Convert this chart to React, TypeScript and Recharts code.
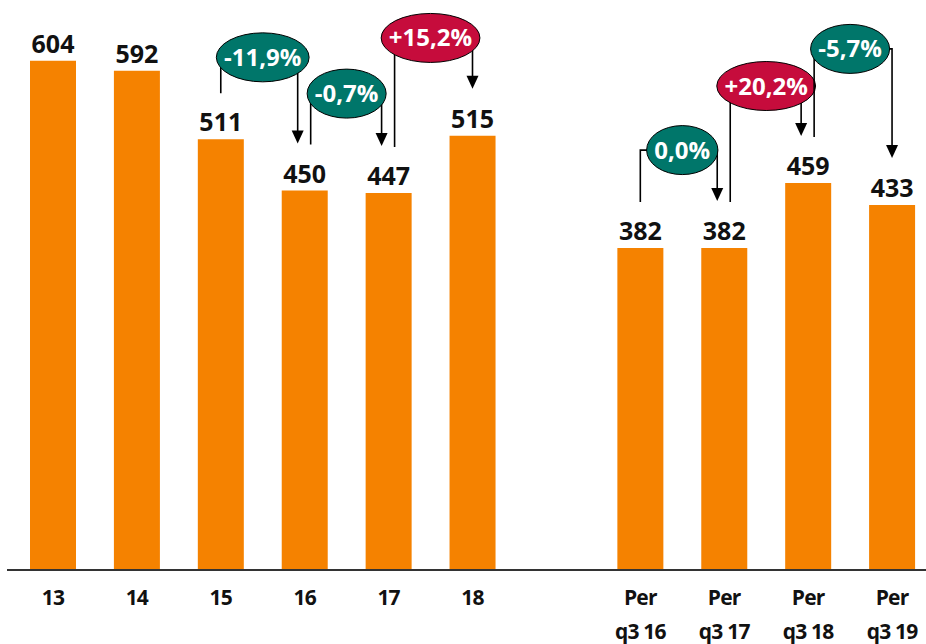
import { BarChart, Bar, XAxis, YAxis, LabelList, ReferenceArea } from 'recharts'

const CATEGORIES = ['13', '14', '15', '16', '17', '18', ' ', 'Per\nq3 16', 'Per\nq3 17', 'Per\nq3 18', 'Per\nq3 19']
const VALUES = [604, 592, 511, 450, 447, 515, null, 382, 382, 459, 433]

// year-on-year changes: index of the bar compared from / to, and the text in the bubble
const CHANGE_FROM = [2, 3, 4, 7, 8, 9]
const CHANGE_TO = [3, 4, 5, 8, 9, 10]
const CHANGE_LABELS = ['-11,9%', '-0,7%', '+15,2%', '0,0%', '+20,2%', '-5,7%']
// height (in axis units) where each bubble sits
const BUBBLE_LEVEL = [608, 565, 631, 498, 574, 618]

const ORANGE = '#F58200'
const TEAL = '#00766A'
const RED = '#C60C3C'
const FONT = "'Open Sans', sans-serif"

const data = CATEGORIES.map((name, i) => ({ name, value: VALUES[i] }))

// rough Open Sans Bold advance widths, for sizing the bubbles
const CHAR_W: Record<string, number> = { '-': 0.322, '+': 0.572, ',': 0.293, '%': 0.868 }
const textWidth = (s: string, size: number) =>
  s.split('').reduce((w, c) => w + (CHAR_W[c] ?? 0.572), 0) * size

function ValueLabel(props: any) {
  const { x, y, width, value } = props
  if (value == null) return null
  return (
    <text x={x + width / 2} y={y - 8} textAnchor="middle" fontFamily={FONT}
      fontWeight={700} fontSize={25} fill="#111">
      {value}
    </text>
  )
}

function CategoryTick(props: any) {
  const { x, y, payload } = props
  const lines = String(payload.value).trim().split('\n').filter(Boolean)
  return (
    <text x={x} y={y} textAnchor="middle" fontFamily={FONT} fontWeight={700}
      fontSize={21} letterSpacing={-0.8} fill="#111">
      {lines.map((l, i) => (
        <tspan key={i} x={x} dy={i === 0 ? 35 : 34}>{l}</tspan>
      ))}
    </text>
  )
}

function Bubble(props: any) {
  const { x, y, width, height, idx } = props
  if (![x, y, width, height].every(Number.isFinite)) return null
  const step = width / 2
  const perUnit = height / BUBBLE_LEVEL[idx]
  const base = y + height
  const from = CHANGE_FROM[idx]
  const to = CHANGE_TO[idx]
  const fromTop = base - (VALUES[from] as number) * perUnit
  const toTop = base - (VALUES[to] as number) * perUnit

  // shift lines apart where a bar both receives and starts an arrow
  const xs = x + step / 2 + (CHANGE_TO.includes(from) ? 6 : 0)
  const xt = x + step * 1.5 - (CHANGE_FROM.includes(to) ? 7 : 0)
  const cx = x + step
  const cy = y
  const label = CHANGE_LABELS[idx]
  const rx = textWidth(label, 24) / 2 + 8
  const fill = label.startsWith('+') ? RED : TEAL
  const tip = toTop - 47

  return (
    <g>
      <path d={`M${xs},${fromTop - 46} V${cy} H${cx}`} fill="none" stroke="#000" strokeWidth={1.6} />
      <path d={`M${cx},${cy} H${xt} V${tip - 12}`} fill="none" stroke="#000" strokeWidth={1.6} />
      <polygon points={`${xt - 6},${tip - 13} ${xt + 6},${tip - 13} ${xt},${tip}`} fill="#000" />
      <ellipse cx={cx} cy={cy} rx={rx} ry={24.5} fill={fill} stroke="#000" strokeWidth={1} />
      <text x={cx} y={cy + 8.5} textAnchor="middle" fontFamily={FONT} fontWeight={700}
        fontSize={24} fill="#fff">
        {label}
      </text>
    </g>
  )
}

export default function App() {
  return (
    <div style={{ position: 'absolute', left: 0, top: 0, width: 926, height: 644, overflow: 'hidden', background: '#fff' }}>
      <BarChart width={934} height={644} data={data} margin={{ top: 0, right: 0, bottom: 0, left: 7 }}>
        <XAxis
          dataKey="name"
          interval={0}
          height={74}
          padding={{ left: 4, right: 0 }}
          tickLine={false}
          tickSize={0}
          tickMargin={0}
          axisLine={{ stroke: '#333', strokeWidth: 2 }}
          tick={<CategoryTick />}
        />
        <YAxis hide domain={[0, 676]} />
        <Bar dataKey="value" fill={ORANGE} barSize={46} isAnimationActive={false}>
          <LabelList dataKey="value" content={<ValueLabel />} />
        </Bar>
        {CHANGE_LABELS.map((_, i) => (
          <ReferenceArea
            key={i}
            x1={CATEGORIES[CHANGE_FROM[i]]}
            x2={CATEGORIES[CHANGE_TO[i]]}
            y1={0}
            y2={BUBBLE_LEVEL[i]}
            ifOverflow="visible"
            shape={(p: any) => <Bubble {...p} idx={i} />}
          />
        ))}
      </BarChart>
    </div>
  )
}
